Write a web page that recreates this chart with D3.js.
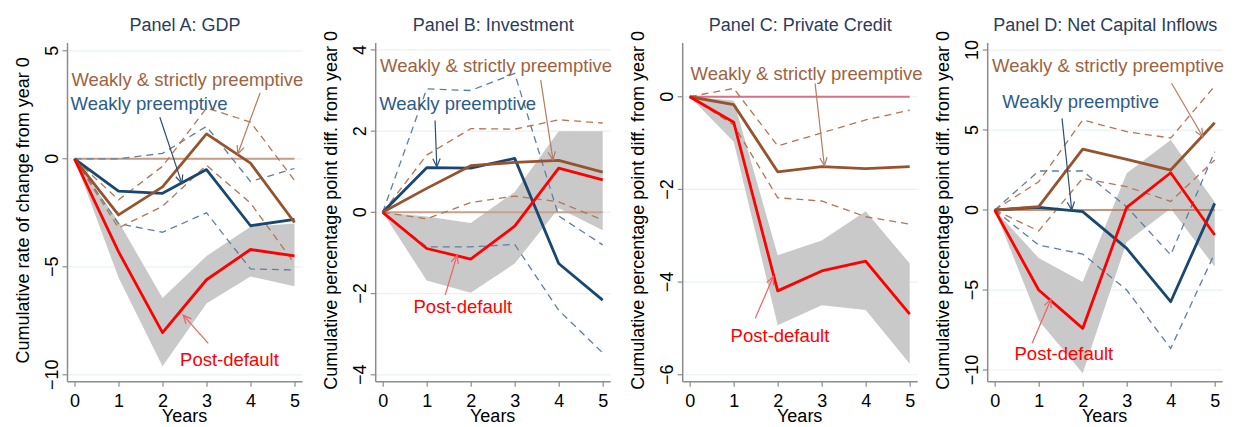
<!DOCTYPE html>
<html>
<head>
<meta charset="utf-8">
<script src="https://cdn.jsdelivr.net/npm/d3@7"></script>
<style>
  body { margin: 0; background: #fff; }
  svg { display: block; }
  svg text { font-family: "Liberation Sans", Arial, sans-serif; }
</style>
</head>
<body>
<svg id="chart" width="1235" height="427"></svg>
<script>
var years = [0, 1, 2, 3, 4, 5];

// Panel A: GDP
var gdpPost = [0, -4.3, -8.05, -5.6, -4.2, -4.5];
var gdpPostLo = [0, -5.5, -9.6, -6.7, -5.45, -5.9];
var gdpPostHi = [0, -2.9, -6.45, -4.5, -3.15, -3.0];
var gdpWeak = [0, -1.5, -1.6, -0.5, -3.1, -2.8];
var gdpWeakHi = [0, 0, 0.25, 1.5, -1.05, -0.45];
var gdpWeakLo = [0, -3.0, -3.4, -2.5, -5.1, -5.15];
var gdpStrict = [0, -2.6, -1.3, 1.15, -0.2, -2.95];
var gdpStrictHi = [0, -1.9, -0.35, 2.35, 1.7, -1.0];
var gdpStrictLo = [0, -3.2, -2.2, -0.3, -2.05, -4.85];
var gdpTicks = [5, 0, -5, -10];

// Panel B: Investment
var invPost = [0, -0.89, -1.15, -0.34, 1.09, 0.8];
var invPostLo = [0, -1.68, -1.98, -1.26, 0.1, -0.44];
var invPostHi = [0, -0.1, -0.26, 0.5, 2.0, 2.0];
var invWeak = [0, 1.1, 1.09, 1.33, -1.26, -2.16];
var invWeakHi = [0, 3.04, 3.0, 3.42, -0.09, -0.8];
var invWeakLo = [0, -0.85, -0.85, -0.79, -2.41, -3.46];
var invStrict = [0, 0.59, 1.15, 1.23, 1.28, 0.99];
var invStrictHi = [0, 1.41, 2.06, 2.05, 2.28, 2.2];
var invStrictLo = [0, -0.16, 0.24, 0.4, 0.26, -0.19];
var invTicks = [4, 2, 0, -2, -4];

// Panel C: Private Credit
var crPost = [0, -0.55, -4.19, -3.76, -3.55, -4.69];
var crPostLo = [0, -0.97, -4.93, -4.5, -4.6, -5.76];
var crPostHi = [0, -0.08, -3.42, -3.1, -2.47, -3.6];
var crStrict = [0, -0.17, -1.62, -1.51, -1.55, -1.51];
var crStrictHi = [0, 0.18, -1.06, -0.78, -0.5, -0.29];
var crStrictLo = [0, -0.61, -2.18, -2.25, -2.59, -2.75];
var crTicks = [0, -2, -4, -6];

// Panel D: Net Capital Inflows
var kfPost = [0, -5.0, -7.4, 0.17, 2.33, -1.56];
var kfPostLo = [0, -6.9, -10.2, -2.0, 0.1, -3.55];
var kfPostHi = [0, -3.0, -4.5, 2.3, 4.38, 0.5];
var kfWeak = [0, 0.17, -0.1, -2.4, -5.73, 0.42];
var kfWeakHi = [0, 2.44, 2.44, 0.2, -2.8, 3.65];
var kfWeakLo = [0, -2.19, -2.75, -5.0, -8.65, -2.7];
var kfStrict = [0, 0.21, 3.81, 3.17, 2.5, 5.46];
var kfStrictHi = [0, 1.77, 5.63, 4.9, 4.5, 7.75];
var kfStrictLo = [0, -1.31, 1.98, 1.46, 0.54, 3.13];
var kfTicks = [10, 5, 0, -5, -10];

var titles = ["Panel A: GDP", "Panel B: Investment", "Panel C: Private Credit", "Panel D: Net Capital Inflows"];
var yTitles = [
    "Cumulative rate of change from year 0",
    "Cumulative percentage point diff. from year 0",
    "Cumulative percentage point diff. from year 0",
    "Cumulative percentage point diff. from year 0"
];

var panels = [
    { post: [gdpPost, gdpPostLo, gdpPostHi], weak: [gdpWeak, gdpWeakLo, gdpWeakHi],
      strict: [gdpStrict, gdpStrictLo, gdpStrictHi], ticks: gdpTicks,
      domain: [-10.32, 5.36], axisX: 67.5, zeroColor: '#c79c86', zeroWidth: 2,
      notes: [
        { text: "Weakly & strictly preemptive", cls: 'strict', at: [-0.07, 3.37], from: [4.22, 3.06], to: [3.71, 0.22] },
        { text: "Weakly preemptive", cls: 'weak', at: [-0.09, 2.25], from: [1.94, 1.92], to: [2.44, -1.14] },
        { text: "Post-default", cls: 'post', at: [2.4, -9.58], from: [3.04, -8.55], to: [2.47, -7.24] }
      ] },
    { post: [invPost, invPostLo, invPostHi], weak: [invWeak, invWeakLo, invWeakHi],
      strict: [invStrict, invStrictLo, invStrictHi], ticks: invTicks,
      domain: [-4.17, 4.17], axisX: 375.7, zeroColor: '#c9a08a', zeroWidth: 2,
      notes: [
        { text: "Weakly & strictly preemptive", cls: 'strict', at: [-0.06, 3.46], from: [3.59, 3.26], to: [3.87, 1.29] },
        { text: "Weakly preemptive", cls: 'weak', at: [-0.08, 2.52], from: [1.19, 2.26], to: [1.23, 1.12] },
        { text: "Post-default", cls: 'post', at: [0.7, -2.47], from: [1.42, -2.04], to: [1.69, -1.05] }
      ] },
    { post: [crPost, crPostLo, crPostHi], weak: null,
      strict: [crStrict, crStrictLo, crStrictHi], ticks: crTicks,
      domain: [-6.15, 1.16], axisX: 682.7, zeroColor: '#d77089', zeroWidth: 2,
      notes: [
        { text: "Weakly & strictly preemptive", cls: 'strict', at: [0.02, 0.36], from: [2.85, 0.29], to: [3.06, -1.49] },
        { text: "Post-default", cls: 'post', at: [0.93, -5.29], from: [1.49, -4.78], to: [1.9, -3.88] }
      ] },
    { post: [kfPost, kfPostLo, kfPostHi], weak: [kfWeak, kfWeakLo, kfWeakHi],
      strict: [kfStrict, kfStrictLo, kfStrictHi], ticks: kfTicks,
      domain: [-10.73, 10.44], axisX: 987.7, zeroColor: '#b8734f', zeroWidth: 1.5,
      notes: [
        { text: "Weakly & strictly preemptive", cls: 'strict', at: [-0.06, 8.64], from: [4.02, 7.92], to: [4.73, 4.58] },
        { text: "Weakly preemptive", cls: 'weak', at: [0.17, 6.36], from: [1.53, 5.73], to: [1.75, 0] },
        { text: "Post-default", cls: 'post', at: [0.45, -9.38], from: [0.85, -8.33], to: [1.28, -5.58] }
      ] }
];

var colors = {
    post: '#ff0000', postArrow: '#f26060',
    weak: '#1a476f', weakDash: '#5d7fa3', weakText: '#2c5c88', weakArrow: '#2a4f78',
    strict: '#97532e', strictDash: '#b37556', strictText: '#a0623e', strictArrow: '#b57d5e',
    band: '#c9c9c9', axis: '#8c8c8c', grid: '#e9f2f3', title: '#2b3c5a'
};

var svg = d3.select('#chart');
var plotTop = 43, plotBottom = 381.7;

function drawPanel(p, i) {
    var g = svg.append('g').attr('class', 'panel');
    var x0 = p.axisX + 7;
    var right = x0 + 228;

    var x = d3.scaleLinear().domain([0, 5]).range([x0, x0 + 220]);
    var y = d3.scaleLinear().domain(p.domain).range([plotBottom, plotTop]);

    // gridlines
    g.selectAll('line.grid')
        .data(p.ticks)
        .enter().append('line')
        .attr('class', 'grid')
        .attr('x1', p.axisX).attr('x2', right)
        .attr('y1', function(d) { return y(d); })
        .attr('y2', function(d) { return y(d); })
        .attr('stroke', colors.grid)
        .attr('stroke-width', 1.2);

    // confidence band for post-default
    var area = d3.area()
        .x(function(d, j) { return x(years[j]); })
        .y0(function(d, j) { return y(p.post[1][j]); })
        .y1(function(d, j) { return y(p.post[2][j]); });
    g.append('path')
        .datum(years)
        .attr('d', area)
        .attr('fill', colors.band);

    // zero reference line
    g.append('line')
        .attr('x1', x(0)).attr('x2', x(5))
        .attr('y1', y(0)).attr('y2', y(0))
        .attr('stroke', p.zeroColor)
        .attr('stroke-width', p.zeroWidth);

    var line = d3.line()
        .x(function(d, j) { return x(years[j]); })
        .y(function(d) { return y(d); });

    function dashed(vals, color) {
        g.append('path')
            .datum(vals)
            .attr('d', line)
            .attr('fill', 'none')
            .attr('stroke', color)
            .attr('stroke-width', 1.3)
            .attr('stroke-dasharray', '7,5');
    }
    function solid(vals, color) {
        g.append('path')
            .datum(vals)
            .attr('d', line)
            .attr('fill', 'none')
            .attr('stroke', color)
            .attr('stroke-width', 2.8)
            .attr('stroke-linejoin', 'round');
    }

    if (p.weak) { dashed(p.weak[1], colors.weakDash); dashed(p.weak[2], colors.weakDash); }
    dashed(p.strict[1], colors.strictDash);
    dashed(p.strict[2], colors.strictDash);
    if (p.weak) solid(p.weak[0], colors.weak);
    solid(p.strict[0], colors.strict);
    solid(p.post[0], colors.post);

    // y axis: ticks from the scale, labels rotated like Stata
    g.append('line')
        .attr('x1', p.axisX).attr('x2', p.axisX)
        .attr('y1', plotTop).attr('y2', plotBottom)
        .attr('stroke', colors.axis).attr('stroke-width', 1.5);
    g.selectAll('line.ytick')
        .data(p.ticks)
        .enter().append('line')
        .attr('class', 'ytick')
        .attr('x1', p.axisX - 5).attr('x2', p.axisX)
        .attr('y1', function(d) { return y(d); })
        .attr('y2', function(d) { return y(d); })
        .attr('stroke', colors.axis).attr('stroke-width', 1.2);
    g.selectAll('text.ylab')
        .data(p.ticks)
        .enter().append('text')
        .attr('class', 'ylab')
        .attr('transform', function(d) { return 'translate(' + (p.axisX - 16) + ',' + y(d) + ') rotate(-90)'; })
        .attr('dy', '0.35em')
        .attr('text-anchor', 'middle')
        .attr('font-size', 18)
        .attr('fill', '#000')
        .text(d3.format('d'));

    // x axis
    var xAxis = d3.axisBottom(x).tickValues(years).tickSize(5).tickFormat(d3.format('d'));
    var xa = g.append('g')
        .attr('transform', 'translate(0,' + plotBottom + ')')
        .call(xAxis);
    xa.select('.domain').remove();
    xa.append('line')
        .attr('x1', p.axisX).attr('x2', right)
        .attr('y1', 0).attr('y2', 0)
        .attr('stroke', colors.axis).attr('stroke-width', 1.5);
    xa.selectAll('.tick line').attr('stroke', colors.axis).attr('stroke-width', 1.2);
    xa.selectAll('.tick text')
        .attr('fill', '#000')
        .attr('font-size', 18)
        .attr('y', 25.5).attr('dy', 0);

    // titles
    g.append('text')
        .attr('x', (p.axisX + right) / 2)
        .attr('y', 31)
        .attr('text-anchor', 'middle')
        .attr('font-size', 18)
        .attr('fill', colors.title)
        .text(titles[i]);

    g.append('text')
        .attr('x', x(2.5))
        .attr('y', 422)
        .attr('text-anchor', 'middle')
        .attr('font-size', 18)
        .attr('fill', '#000')
        .text('Years');

    g.append('text')
        .attr('transform', 'translate(' + (p.axisX - 39) + ',' + ((plotTop + plotBottom) / 2 - 2) + ') rotate(-90)')
        .attr('text-anchor', 'middle')
        .attr('font-size', 18)
        .attr('fill', '#000')
        .text(yTitles[i]);

    // annotations with arrows
    p.notes.forEach(function(n) {
        var tc = n.cls === 'post' ? colors.post : (n.cls === 'weak' ? colors.weakText : colors.strictText);
        var ac = n.cls === 'post' ? colors.postArrow : (n.cls === 'weak' ? colors.weakArrow : colors.strictArrow);
        g.append('text')
            .attr('x', x(n.at[0]))
            .attr('y', y(n.at[1]))
            .attr('font-size', 18.5)
            .attr('fill', tc)
            .text(n.text);

        var fx = x(n.from[0]), fy = y(n.from[1]);
        var tx = x(n.to[0]), ty = y(n.to[1]);
        g.append('line')
            .attr('x1', fx).attr('y1', fy)
            .attr('x2', tx).attr('y2', ty)
            .attr('stroke', ac).attr('stroke-width', 1.2);
        var ang = Math.atan2(ty - fy, tx - fx);
        var len = 9, spread = 0.42;
        var head = [
            [tx - len * Math.cos(ang - spread), ty - len * Math.sin(ang - spread)],
            [tx, ty],
            [tx - len * Math.cos(ang + spread), ty - len * Math.sin(ang + spread)]
        ];
        g.append('path')
            .attr('d', d3.line()(head))
            .attr('fill', 'none')
            .attr('stroke', ac).attr('stroke-width', 1.2);
    });
}

panels.forEach(drawPanel);
</script>
</body>
</html>
